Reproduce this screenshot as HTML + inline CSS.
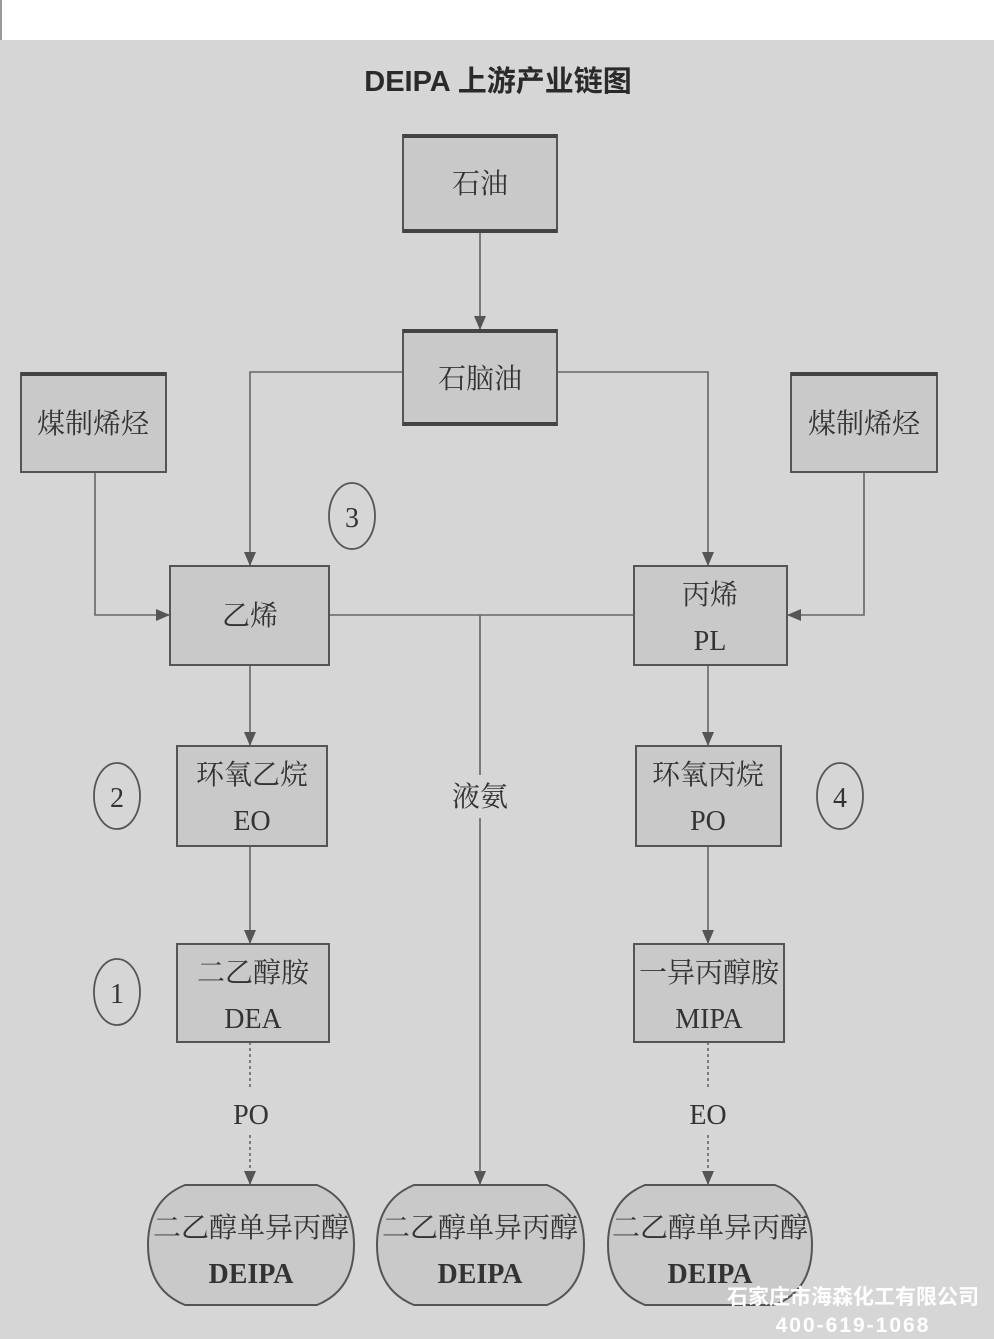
<!DOCTYPE html>
<html><head><meta charset="utf-8"><style>
html,body{margin:0;padding:0;width:994px;height:1339px;overflow:hidden;background:#fff}
svg{display:block}
.t{font-family:"Liberation Serif","Noto Serif CJK SC",serif;fill:#333;text-anchor:middle}
</style></head><body>
<svg width="994" height="1339" viewBox="0 0 994 1339" xmlns="http://www.w3.org/2000/svg">
<defs>
<marker id="a" markerWidth="14" markerHeight="12" refX="13" refY="6" orient="auto" markerUnits="userSpaceOnUse" viewBox="0 0 14 12">
<path d="M0,0 L14,6 L0,12 Z" fill="#555"/></marker>
</defs>
<rect x="0" y="0" width="994" height="40" fill="#fff"/>
<rect x="0" y="0" width="2" height="40" fill="#999"/>
<rect x="0" y="40" width="994" height="1299" fill="#d6d6d6"/>
<text x="498" y="91" font-family="Liberation Sans,Noto Sans CJK SC,sans-serif" font-size="29" font-weight="bold" fill="#2a2a2a" text-anchor="middle">DEIPA 上游产业链图</text>

<g stroke="#666" stroke-width="1.6" fill="none">
<line x1="480" y1="232" x2="480" y2="329" marker-end="url(#a)"/>
<polyline points="403,372 250,372 250,565" marker-end="url(#a)"/>
<polyline points="557,372 708,372 708,565" marker-end="url(#a)"/>
<polyline points="95,472 95,615 169,615" marker-end="url(#a)"/>
<polyline points="864,472 864,615 788,615" marker-end="url(#a)"/>
<line x1="329" y1="615" x2="634" y2="615"/>
<line x1="480" y1="615" x2="480" y2="775"/>
<line x1="480" y1="818" x2="480" y2="1184" marker-end="url(#a)"/>
<line x1="250" y1="665" x2="250" y2="745" marker-end="url(#a)"/>
<line x1="708" y1="665" x2="708" y2="745" marker-end="url(#a)"/>
<line x1="250" y1="846" x2="250" y2="943" marker-end="url(#a)"/>
<line x1="708" y1="846" x2="708" y2="943" marker-end="url(#a)"/>
<line x1="250" y1="1042" x2="250" y2="1090" stroke-dasharray="3,3"/>
<line x1="250" y1="1135" x2="250" y2="1184" stroke-dasharray="3,3" marker-end="url(#a)"/>
<line x1="708" y1="1042" x2="708" y2="1090" stroke-dasharray="3,3"/>
<line x1="708" y1="1135" x2="708" y2="1184" stroke-dasharray="3,3" marker-end="url(#a)"/>
</g>

<g fill="#c9c9c9" stroke="#555" stroke-width="2">
<rect x="403" y="135" width="154" height="97"/>
<rect x="403" y="330" width="154" height="95"/>
<rect x="21" y="373" width="145" height="99"/>
<rect x="791" y="373" width="146" height="99"/>
<rect x="170" y="566" width="159" height="99"/>
<rect x="634" y="566" width="153" height="99"/>
<rect x="177" y="746" width="150" height="100"/>
<rect x="636" y="746" width="145" height="100"/>
<rect x="177" y="944" width="152" height="98"/>
<rect x="634" y="944" width="150" height="98"/>
<path d="M185,1185 H317 Q354,1200 354,1245 Q354,1290 317,1305 H185 Q148,1290 148,1245 Q148,1200 185,1185 Z"/>
<path d="M414,1185 H547 Q584,1200 584,1245 Q584,1290 547,1305 H414 Q377,1290 377,1245 Q377,1200 414,1185 Z"/>
<path d="M645,1185 H775 Q812,1200 812,1245 Q812,1290 775,1305 H645 Q608,1290 608,1245 Q608,1200 645,1185 Z"/>
</g>
<g fill="#444">
<rect x="403" y="134" width="154" height="4"/><rect x="403" y="229" width="154" height="4"/>
<rect x="403" y="329" width="154" height="4"/><rect x="403" y="422" width="154" height="4"/>
<rect x="21" y="372" width="145" height="4"/><rect x="791" y="372" width="146" height="4"/>
</g>
<g fill="none" stroke="#555" stroke-width="1.8">
<ellipse cx="352" cy="516" rx="23" ry="33"/>
<ellipse cx="117" cy="796" rx="23" ry="33"/>
<ellipse cx="117" cy="992" rx="23" ry="33"/>
<ellipse cx="840" cy="796" rx="23" ry="33"/>
</g>

<g class="t" font-size="28">
<text x="480" y="193">石油</text>
<text x="480" y="388">石脑油</text>
<text x="93" y="433">煤制烯烃</text>
<text x="864" y="433">煤制烯烃</text>
<text x="250" y="625">乙烯</text>
<text x="710" y="604">丙烯</text><text x="710" y="650">PL</text>
<text x="252" y="784">环氧乙烷</text><text x="252" y="830">EO</text>
<text x="708" y="784">环氧丙烷</text><text x="708" y="830">PO</text>
<text x="253" y="982">二乙醇胺</text><text x="253" y="1028">DEA</text>
<text x="709" y="982">一异丙醇胺</text><text x="709" y="1028">MIPA</text>
<text x="480" y="806">液氨</text>
<text x="251" y="1124">PO</text>
<text x="708" y="1124">EO</text>
<text x="251" y="1237">二乙醇单异丙醇</text><text x="251" y="1283" font-weight="bold">DEIPA</text>
<text x="480" y="1237">二乙醇单异丙醇</text><text x="480" y="1283" font-weight="bold">DEIPA</text>
<text x="710" y="1237">二乙醇单异丙醇</text><text x="710" y="1283" font-weight="bold">DEIPA</text>
<text x="352" y="527">3</text>
<text x="117" y="807">2</text>
<text x="117" y="1003">1</text>
<text x="840" y="807">4</text>
</g>
<text x="853" y="1304" font-family="Liberation Sans,Noto Sans CJK SC,sans-serif" font-size="21" font-weight="bold" fill="#fff" text-anchor="middle">石家庄市海森化工有限公司</text>
<text x="853" y="1332" font-family="Liberation Sans,sans-serif" font-size="21" font-weight="bold" fill="#fff" text-anchor="middle" letter-spacing="2">400-619-1068</text>
</svg>
</body></html>
